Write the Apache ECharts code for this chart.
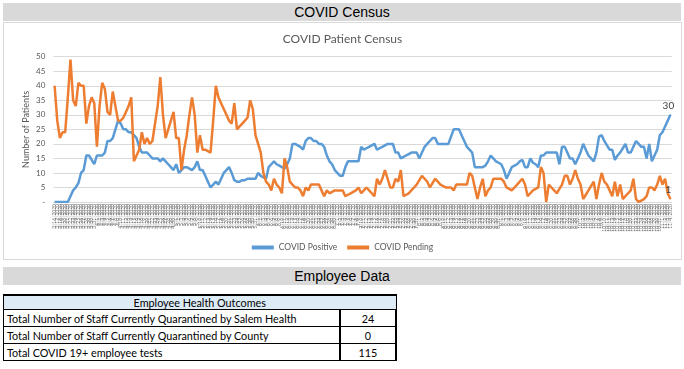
<!DOCTYPE html>
<html>
<head>
<meta charset="utf-8">
<script src="https://cdn.jsdelivr.net/npm/echarts@6/dist/echarts.min.js"></script>
<style>
html,body{margin:0;padding:0;background:#fff;width:684px;height:369px;overflow:hidden;}
.band{position:absolute;left:3px;width:678px;height:18px;background:#d9d9d9;font-family:"Liberation Sans",Arial,sans-serif;font-size:14px;line-height:18px;text-align:center;color:#000;}
#chart{position:absolute;left:3px;top:22px;width:677px;height:236px;border:1px solid #d9d9d9;}
#tbl{position:absolute;left:3px;top:294px;width:394px;border-collapse:collapse;font-family:Lato,"Open Sans",sans-serif;font-size:10.8px;color:#000;}
#tbl td{border:1px solid #000;padding:0 3px;}
#tbl tr.h td{background:#ddebf7;text-align:center;height:13px;border-top:2px solid #000;font-size:10.8px;}
#tbl tr.r td{height:16px;}
#tbl td.v{text-align:center;width:48px;border-left:2px solid #000;border-right:2px solid #000;}
</style>
</head>
<body>
<div class="band" style="top:3px;">COVID Census</div>
<div id="chart"></div>
<div class="band" style="top:267px;">Employee Data</div>
<table id="tbl">
<tr class="h"><td colspan="2" id="tblTitle"></td></tr>
<tr class="r"><td id="l0"></td><td class="v" id="v0"></td></tr>
<tr class="r"><td id="l1"></td><td class="v" id="v1"></td></tr>
<tr class="r"><td id="l2"></td><td class="v" id="v2"></td></tr>
</table>
<script>
// ---- data ----
const chartTitle = "COVID Patient Census";
const yAxisName = "Number of Patients";
const seriesNames = ["COVID Positive", "COVID Pending"];
const startDate = [2020, 3, 16]; // first category (daily dates)
const yTicks = [0, 5, 10, 15, 20, 25, 30, 35, 40, 45, 50];

const covidPositive = [
 0,0,0,0,0,0,2,4,5,6.5,
 10,11,16,16,14.5,13,16,16,16,17,
 21,21,22,25,28,27,25,25,24,24,
 23,22,19,17,17,17,16,15,15,15,
 14,15,14,13,12,11,13,10,11,12,
 12,11.5,11,12,14,11,11,9,7,5,
 6,7,6,8,10,11,12,10,7.5,7,
 7,7.5,7.5,8,8,8,8,10,9,8.5,
 8,12,13,14,13,12.5,12,11.5,13,15,
 20,20,19.5,19,18,21,22,22,21,21,
 20,20,19,16,14,13,11,10,9,9,
 12,14,14,14,14,14,19,18,18.5,19,
 19.5,20,18,18.5,19,19.5,20,20,20,17,
 17,15,15.5,16,16.5,17,17,17,15,17,
 19,20,21,22,22,20,20,20,20,20,
 22.5,25,25,25,23,21,19,18,17,12,
 12,12,12,12.5,14,16,15,14,13.5,13,
 11,8,10,12,12.5,13,14,14.5,12,12,
 15,13.5,13,12,16,16,17,17,17,17,
 17,13,19,19,17,15,15,13,15,17,
 20,18,16,15,14,17,22.5,23,21,19.5,
 18,18,14.5,16,17,18.5,20,17,17,19,
 21,20,19,19,15,20,14,16,18,23,
 24,26,28,30
];
const covidPending = [
 40,28,22,24,24,36,49,35,33,41,
 40,40,27,33,36,34,19,33,41,39,
 31,30,38,33,28,28,29,31,33,36,
 14,16,18,24,20,22,20,21,27,33,
 43,30,22,25,28,31,22,22,11,18,
 23,30,36,30,17,23,18,18,17.5,17,
 28,40,36,34,32,30,28,27,34,25,
 26,27,28,29,35,32,23,20,17,10,
 7,6,4,8,6,5,3,15,12,7,
 6,5,5,4,2,5,4,6,6,6,
 6,4,2,4,3,3.5,4,4,4,4,
 2,2.5,3,3.5,4,5,3,4,5,4,
 3,2,8,6,8,11,8,5,5,8,
 7,11,2,2.5,3,4,5,6,7.5,9,
 8,7,5,6.5,8,7,6,5.5,5,5,
 5,4,6,6,6,6,6,10,9,5,
 1,5,8,2,4,5,8,8,8,8,
 7,5,4.5,4,5,6,7,8,6,2,
 3,4,4.5,5,12,10,0,6,5,4,
 3,4.5,6,9,9,6,8,11,8,6,
 1,2.5,4,5.5,7,1,6,10,7,6,
 4,2,7,2,6,1,2,3,4,8,
 1,0,0.5,1,2,5,5,4,6,9,
 6,8,3,1
];

const tableTitle = "Employee Health Outcomes";
const tableLabels = [
 "Total Number of Staff Currently Quarantined by Salem Health",
 "Total Number of Staff Currently Quarantined by County",
 "Total COVID 19+ employee tests"
];
const tableValues = [24, 0, 115];

// ---- categories (daily date labels) ----
const categories = [];
{
  const d = new Date(startDate[0], startDate[1] - 1, startDate[2]);
  for (let i = 0; i < covidPositive.length; i++) {
    categories.push((d.getMonth() + 1) + "/" + d.getDate() + "/" + d.getFullYear());
    d.setDate(d.getDate() + 1);
  }
}

// ---- table ----
document.getElementById("tblTitle").textContent = tableTitle;
tableLabels.forEach((t, i) => {
  document.getElementById("l" + i).textContent = t;
  document.getElementById("v" + i).textContent = tableValues[i];
});

// ---- chart ----
const font = "Lato, 'Open Sans', sans-serif";
function withLastLabel(arr) {
  return arr.map((v, i) => i === arr.length - 1
    ? { value: v, symbol: "circle", symbolSize: 1,
        label: { show: true, position: "top", distance: 4, offset: [-2, 0], fontSize: 10, color: "#404040", fontFamily: font } }
    : { value: v, symbol: "none" });
}
const chart = echarts.init(document.getElementById("chart"), null, { renderer: "canvas" });
chart.setOption({
  animation: false,
  title: {
    text: chartTitle, left: "center", top: 5,
    textStyle: { fontSize: 12, fontWeight: "normal", color: "#595959", fontFamily: font }
  },
  legend: {
    data: seriesNames, left: "center", top: 215,
    icon: "rect", itemWidth: 22, itemHeight: 4, itemGap: 10,
    textStyle: { fontSize: 8.5, color: "#595959", fontFamily: font }
  },
  grid: { left: 49.3, right: 9.3, top: 33.7, bottom: 57, containLabel: false },
  xAxis: {
    type: "category", data: categories, boundaryGap: true,
    axisLine: { lineStyle: { color: "#d9d9d9" } },
    axisTick: { show: false },
    axisLabel: { interval: 0, rotate: 90, fontSize: 5, color: "#6f6f6f", margin: 2, fontFamily: font }
  },
  yAxis: {
    type: "value", min: yTicks[0], max: yTicks[yTicks.length - 1], interval: yTicks[1] - yTicks[0],
    name: yAxisName, nameLocation: "middle", nameRotate: 90, nameGap: 23, nameMoveOverlap: false,
    nameTextStyle: { fontSize: 9, color: "#595959", fontFamily: font },
    axisLine: { show: false }, axisTick: { show: false },
    axisLabel: { fontSize: 8, color: "#595959", margin: 8, fontFamily: font,
      formatter: v => v === 0 ? "-" : String(v) },
    splitLine: { lineStyle: { color: "#d9d9d9", width: 1 } }
  },
  series: [
    { name: seriesNames[0], type: "line", data: withLastLabel(covidPositive),
      showSymbol: true, showAllSymbol: true,
      lineStyle: { color: "#5b9bd5", width: 2.5 }, itemStyle: { color: "#5b9bd5" }, z: 2 },
    { name: seriesNames[1], type: "line", data: withLastLabel(covidPending),
      showSymbol: true, showAllSymbol: true,
      lineStyle: { color: "#ed7d31", width: 2.5 }, itemStyle: { color: "#ed7d31" }, z: 3 }
  ]
});
</script>
</body>
</html>
